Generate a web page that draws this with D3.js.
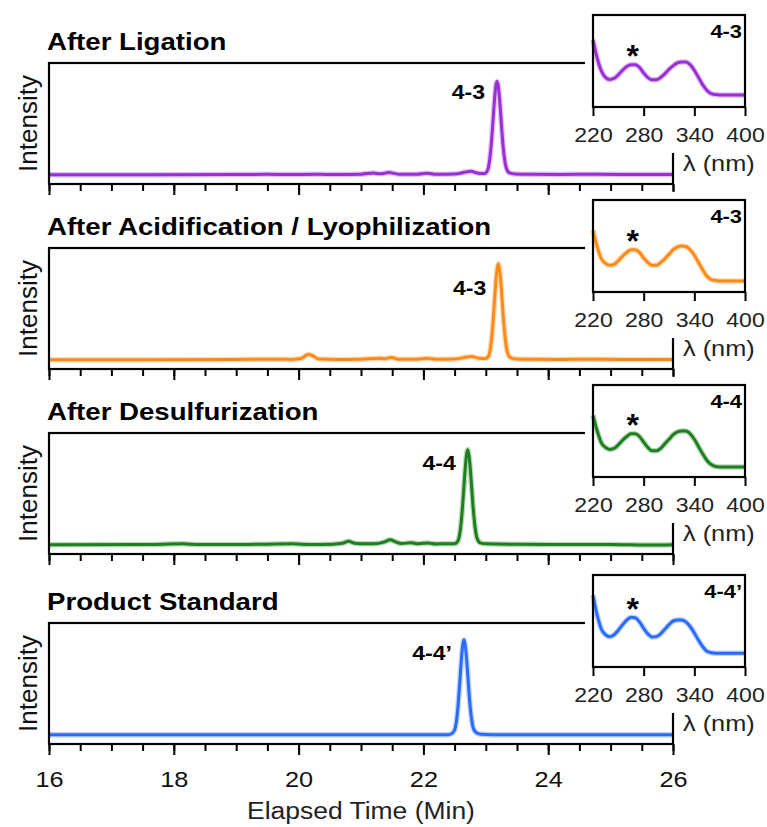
<!DOCTYPE html>
<html>
<head>
<meta charset="utf-8">
<script src="https://cdn.jsdelivr.net/npm/d3@7.9.0/dist/d3.min.js"></script>
<style>
  body { margin: 0; background: #fff; }
  svg { display: block; font-family: "Liberation Sans", Arial, Helvetica, sans-serif; }
</style>
</head>
<body>
<svg id="chart" width="767" height="827"></svg>
<script>
// ---- data ----
const titles = ['After Ligation', 'After Acidification / Lyophilization', 'After Desulfurization', 'Product Standard'];
const peakLabels = ['4-3', '4-3', '4-4', '4-4\u2019'];
const colors = ['#9a2fd6', '#ff8a17', '#1d7f1d', '#2a6cff'];

const timeTicks = [16, 18, 20, 22, 24, 26];
const wavelengthTicks = [220, 280, 340, 400];

// chromatograms: [time (min), intensity]
const ligationTrace = [
  [16, 0], [17.5, 0], [19, 0.2], [19.5, 0.4], [19.8, 0.1], [20.3, 0.5], [20.6, 0.1], [21.0, 0.6],
  [21.2, 1.8], [21.3, 0.9], [21.45, 2.3], [21.6, 0.6], [21.9, 0.5], [22.05, 1.6], [22.2, 0.4],
  [22.5, 0.7], [22.68, 2.8], [22.76, 3.6], [22.86, 1.8], [22.95, 1.2],
  [22.98, 1.3], [23.03, 5], [23.06, 15], [23.08, 27], [23.1, 43], [23.12, 62], [23.14, 81], [23.16, 95],
  [23.18, 100], [23.2, 95], [23.22, 82], [23.24, 64], [23.26, 45], [23.28, 29], [23.3, 17], [23.33, 7],
  [23.38, 2], [23.48, 0.8], [23.7, 0.5], [24.2, 0.3], [24.8, 0.4], [25.4, 0.2], [26, 0.1]
];
const acidTrace = [
  [16, 0], [17.5, 0], [19, 0.2], [19.6, 0.5], [19.9, 0.3], [20.05, 1.5], [20.15, 5.5], [20.22, 4.5],
  [20.32, 0.8], [20.6, 0.3], [21.0, 0.6], [21.3, 1.6], [21.38, 0.9], [21.48, 2.4], [21.6, 0.6],
  [21.9, 0.5], [22.05, 1.5], [22.2, 0.5], [22.5, 0.8], [22.7, 2.8], [22.77, 3.4], [22.88, 1.6], [22.97, 1.2],
  [23.0, 1.3], [23.05, 5], [23.08, 15], [23.1, 28], [23.12, 44], [23.14, 64], [23.16, 83], [23.18, 97],
  [23.2, 103], [23.22, 97], [23.24, 84], [23.26, 66], [23.28, 46], [23.3, 30], [23.32, 18], [23.35, 7],
  [23.4, 2], [23.5, 0.8], [23.7, 0.5], [24.2, 0.3], [24.8, 0.4], [25.4, 0.2], [26, 0.1]
];
const desulfTrace = [
  [16, 0], [17.5, 0.1], [18.15, 0.9], [18.4, 0.1], [19.2, 0.3], [19.9, 0.9], [20.2, 0.3], [20.55, 0.6],
  [20.7, 1.5], [20.8, 3.6], [20.9, 1.5], [21.0, 1.1], [21.2, 0.9], [21.38, 3], [21.47, 5.3], [21.55, 3.2],
  [21.65, 1.2], [21.8, 2.2], [21.92, 1], [22.08, 1.9], [22.2, 0.8], [22.35, 1.1], [22.45, 0.9],
  [22.51, 1.3], [22.56, 5], [22.59, 15], [22.61, 27], [22.63, 44], [22.65, 63], [22.67, 82], [22.69, 96],
  [22.71, 102], [22.73, 96], [22.75, 83], [22.77, 65], [22.79, 46], [22.81, 30], [22.83, 18], [22.86, 7],
  [22.91, 2], [23.0, 0.9], [23.5, 0.5], [24.2, 0.3], [25.0, 0.2], [25.6, -0.4], [26, 0]
];
const standardTrace = [
  [16, 0], [18, 0], [20, 0], [22, 0], [22.4, 0],
  [22.45, 1], [22.5, 5], [22.53, 15], [22.55, 27], [22.57, 44], [22.59, 63], [22.61, 82], [22.63, 96],
  [22.65, 102], [22.67, 96], [22.69, 83], [22.71, 65], [22.73, 46], [22.75, 30], [22.77, 18], [22.8, 7],
  [22.85, 2], [22.92, 0.5], [23.1, 0], [24, 0], [26, 0]
];
const traces = [ligationTrace, acidTrace, desulfTrace, standardTrace];

// UV spectra (insets)
const wavelengths = [220, 225, 230, 235, 240, 245, 250, 255, 260, 265, 270, 275, 280, 285, 290, 295, 300,
  305, 310, 315, 320, 325, 330, 335, 340, 345, 350, 355, 360, 365, 370, 380, 390, 400];
const ligationUV = [73, 53, 39, 32, 30, 31, 35, 40, 44, 46, 46, 43, 37, 32, 29.5, 29.5, 32,
  36, 41, 45, 48, 49, 49, 46, 40, 32, 24, 18, 14.5, 13.5, 13, 13, 13, 13];
const acidUV = [67, 49, 36, 31, 29, 30, 34, 39, 43, 46, 46, 43, 37, 32, 29, 29, 32,
  36, 41, 46, 49, 50, 49.5, 46, 40, 32, 24, 17, 13.5, 12.5, 12, 12, 12, 12];
const desulfUV = [67, 50, 37, 32, 30, 31, 35, 40, 44, 47, 47, 44, 38, 32, 28.5, 28.5, 31,
  36, 41, 46, 49, 50, 50, 47, 41, 33, 25, 18, 13.5, 11.5, 11, 11, 11, 11];
const standardUV = [78, 56, 41, 35, 33, 35, 40, 46, 51, 54, 53.5, 49, 42, 36, 32.5, 33, 36,
  41, 46, 50, 51, 51, 49, 44, 37, 29, 22, 17, 15.5, 15, 15, 15, 15, 15];
const spectra = [ligationUV, acidUV, desulfUV, standardUV];
const starWavelength = 267;

// ---- layout ----
const svg = d3.select('#chart');
const panelTops = [63, 248, 433, 623];
const panelH = 121;
const labelDy = [36, 47, 37, 37];

const x = d3.scaleLinear().domain([16, 26]).range([49, 673]);
const xs = d3.scaleLinear().domain([220, 400]).range([593, 745]);

panelTops.forEach((top, i) => {
  const g = svg.append('g');
  const bottom = top + panelH;
  const y = d3.scaleLinear().domain([-10, 120]).range([bottom, top]);

  g.append('text').attr('class', 'st')
    .attr('x', 47).attr('y', top - 13)
    .attr('font-size', 24).attr('font-weight', 'bold')
    .text(titles[i]);

  g.append('text')
    .attr('transform', `translate(37,${top + panelH / 2}) rotate(-90)`)
    .attr('text-anchor', 'middle')
    .attr('font-size', 25).attr('fill', '#111')
    .attr('textLength', 97).attr('lengthAdjust', 'spacingAndGlyphs')
    .text('Intensity');

  // minor + major ticks
  g.append('g').attr('transform', `translate(0,${bottom})`)
    .call(d3.axisBottom(x).tickValues(d3.range(16, 26.01, 0.5)).tickSize(7).tickFormat(''))
    .call(a => a.select('.domain').remove());
  const major = g.append('g').attr('class', 'major').attr('transform', `translate(0,${bottom})`)
    .call(d3.axisBottom(x).tickValues(timeTicks).tickSize(11).tickPadding(16)
      .tickFormat(i === 3 ? d3.format('d') : ''))
    .call(a => a.select('.domain').remove());
  major.selectAll('text').attr('class', 'st').attr('font-size', 22).attr('fill', '#111')
    .attr('font-family', null);
  g.selectAll('.tick line').attr('stroke', '#000').attr('stroke-width', 2);

  const line = d3.line().x(d => x(d[0])).y(d => y(d[1])).curve(d3.curveMonotoneX);
  g.append('path').datum(traces[i])
    .attr('d', line).attr('fill', 'none')
    .attr('stroke', colors[i]).attr('stroke-width', 5.5).attr('stroke-opacity', 0.3)
    .attr('stroke-linejoin', 'round');
  g.append('path').datum(traces[i])
    .attr('d', line).attr('fill', 'none')
    .attr('stroke', colors[i]).attr('stroke-width', 3)
    .attr('stroke-linejoin', 'round');

  g.append('rect')
    .attr('x', x(16)).attr('y', top).attr('width', x(26) - x(16)).attr('height', panelH)
    .attr('fill', 'none').attr('stroke', '#000').attr('stroke-width', 2.2);

  const peak = d3.greatest(traces[i], d => d[1]);
  g.append('text').attr('class', 'st')
    .attr('x', x(peak[0]) - 12).attr('y', top + labelDy[i])
    .attr('text-anchor', 'end').attr('font-size', 20).attr('font-weight', 'bold')
    .text(peakLabels[i]);

  // inset: white backing, then the spectrum
  g.append('rect').attr('x', 585).attr('y', top - 56).attr('width', 182).attr('height', 146)
    .attr('fill', '#fff');

  const iTop = top - 48, iBottom = top + 44;
  const ys = d3.scaleLinear().domain([0, 100]).range([iBottom, iTop]);
  const uv = wavelengths.map((w, k) => [w, spectra[i][k]]);
  const uvLine = d3.line().x(d => xs(d[0])).y(d => ys(d[1])).curve(d3.curveMonotoneX);

  g.append('path').datum(uv).attr('d', uvLine).attr('fill', 'none')
    .attr('stroke', colors[i]).attr('stroke-width', 5.5).attr('stroke-opacity', 0.3);
  g.append('path').datum(uv).attr('d', uvLine).attr('fill', 'none')
    .attr('stroke', colors[i]).attr('stroke-width', 3);

  g.append('rect').attr('x', xs(220)).attr('y', iTop)
    .attr('width', xs(400) - xs(220)).attr('height', iBottom - iTop)
    .attr('fill', 'none').attr('stroke', '#000').attr('stroke-width', 2.2);

  const inAx = g.append('g').attr('transform', `translate(0,${iBottom})`)
    .call(d3.axisBottom(xs).tickValues(wavelengthTicks).tickSize(9).tickPadding(12))
    .call(a => a.select('.domain').remove());
  inAx.selectAll('line').attr('stroke', '#000').attr('stroke-width', 2);
  inAx.selectAll('text').attr('class', 'st').attr('font-size', 20).attr('fill', '#222')
    .attr('font-family', null);

  const starY = ys(spectra[i][wavelengths.indexOf(270)]) - 15;
  g.append('text').attr('x', xs(starWavelength)).attr('y', starY + 17)
    .attr('text-anchor', 'middle').attr('font-size', 32).attr('font-weight', 'bold')
    .text('*');

  g.append('text').attr('class', 'st')
    .attr('x', 742).attr('y', top - 25)
    .attr('text-anchor', 'end').attr('font-size', 19).attr('font-weight', 'bold')
    .text(peakLabels[i]);

  g.append('text').attr('class', 'st')
    .attr('x', 683).attr('y', top + 108)
    .attr('font-size', 22).attr('fill', '#222')
    .text('\u03bb (nm)');
});

svg.append('text').attr('class', 'st')
  .attr('x', 361).attr('y', 819)
  .attr('text-anchor', 'middle').attr('font-size', 23).attr('fill', '#222')
  .text('Elapsed Time (Min)');

// the lettering in the figure is a little wider than Arial
svg.selectAll('text.st').each(function () {
  const w = this.getComputedTextLength();
  d3.select(this).attr('textLength', w * 1.15).attr('lengthAdjust', 'spacingAndGlyphs');
});
</script>
</body>
</html>
